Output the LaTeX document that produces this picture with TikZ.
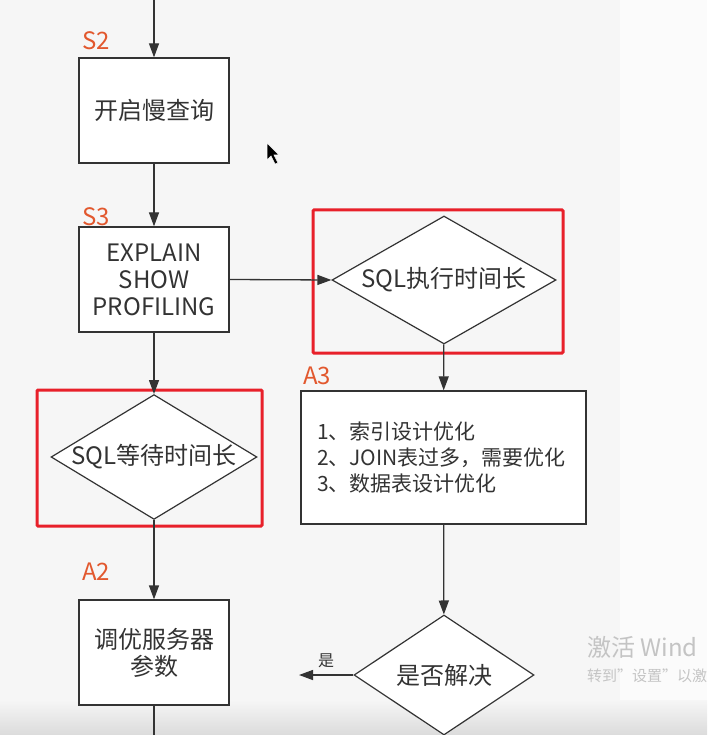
\documentclass[tikz,border=0pt]{standalone}
\usepackage{fontspec}
\setmainfont{Noto Sans CJK SC}
\usetikzlibrary{shapes.geometric, arrows.meta, positioning}
\definecolor{inkgray}{HTML}{333333}
\definecolor{steporange}{HTML}{E2582E}
\definecolor{markred}{HTML}{E8202A}
\definecolor{pagebg}{HTML}{F6F6F6}
\definecolor{markgray}{HTML}{C4C4C4}

\begin{document}
\begin{tikzpicture}[
  x=1pt, y=-1pt,
  pbox/.style={draw=inkgray, fill=white, line width=1.3pt, inner sep=0pt, align=center, text=inkgray, font=\fontsize{24}{27}\selectfont},
  qdiam/.style={diamond, draw=inkgray, fill=white, line width=1.2pt, inner sep=0pt, text=inkgray, font=\fontsize{24}{27}\selectfont},
  steplabel/.style={text=steporange, font=\fontsize{24}{28}\selectfont, inner sep=0pt},
  redframe/.style={draw=markred, line width=3pt, rounded corners=1pt, inner sep=0pt},
  flow/.style={draw=inkgray, line width=1.3pt, -{Triangle[length=14pt,width=10pt]}},
  plain/.style={draw=inkgray, line width=1.3pt}
]
  \useasboundingbox (0,0) rectangle (707,735);
  \fill[pagebg] (0,0) rectangle (620,735);
  \fill[white!60!pagebg] (620,0) rectangle (707,735);
  \shade[top color=pagebg, bottom color=black!14] (0,700) rectangle (707,735);

  % frames behind the decisions
  \node[redframe, minimum width=250pt, minimum height=143pt] (frameexec) at (438,281.5) {};
  \node[redframe, minimum width=225pt, minimum height=136pt] (framewait) at (149.5,458) {};

  \coordinate (top) at (154,0);
  \node[pbox, minimum width=150pt, minimum height=105pt] (slowlog) at (154,110.5) {开启慢查询};
  \node[pbox, minimum width=150pt, minimum height=105pt] (explain) at (154,279.5) {EXPLAIN\\SHOW\\PROFILING};
  \node[qdiam, shape aspect=1.75, minimum width=224pt, minimum height=128pt] (exectime) at (444,280) {SQL执行时间长};
  \node[qdiam, shape aspect=1.65, minimum width=202pt, minimum height=122pt] (waittime) at (154,457) {SQL等待时间长};
  \node[pbox, align=left, text width=253pt, minimum height=133pt, inner xsep=16pt, font=\fontsize{21}{26}\selectfont] (optim) at (443.5,457.5) {1、索引设计优化\\2、JOIN表过多，需要优化\\3、数据表设计优化};
  \node[pbox, minimum width=150pt, minimum height=105pt] (tuning) at (154,652.5) {调优服务器\\参数};
  \node[qdiam, shape aspect=1.5, minimum width=180pt, minimum height=120pt] (solved) at (444,675) {是否解决};
  \coordinate (yesend) at (299,675);
  \coordinate (bottom) at (154,735);

  \node[steplabel] (s2) at (96,41) {S2};
  \node[steplabel] (s3) at (96,217) {S3};
  \node[steplabel] (a3) at (317,376) {A3};
  \node[steplabel] (a2) at (96,572) {A2};

  \draw[flow] (top) -- (slowlog);
  \draw[flow] (slowlog) -- (explain);
  \draw[flow] (explain.east) -- (exectime.west);
  \draw[flow] (explain) -- (waittime);
  \draw[flow] (exectime) -- (optim);
  \draw[flow] (waittime) -- (tuning);
  \draw[plain] (tuning) -- (bottom);
  \draw[flow] (optim) -- (solved);
  \draw[flow] (solved.west) -- node[above=3pt, text=inkgray, font=\fontsize{16}{18}\selectfont] (yes) {是} (yesend);

  % pointer
  \draw[fill=black, draw=white, line width=0.6pt] (267,143) -- (267,160) -- (271,156) -- (275,164) -- (278,163) -- (274,155) -- (279,155) -- cycle;

  % system watermark
  \node[anchor=west, inner sep=0pt, text=markgray, font=\fontsize{24}{26}\selectfont] (wm1) at (587,647) {激活 Wind};
  \node[anchor=west, inner sep=0pt, text=markgray, font=\fontsize{15}{17}\selectfont] (wm2) at (587,676) {转到"设置"以激};
\end{tikzpicture}
\end{document}
